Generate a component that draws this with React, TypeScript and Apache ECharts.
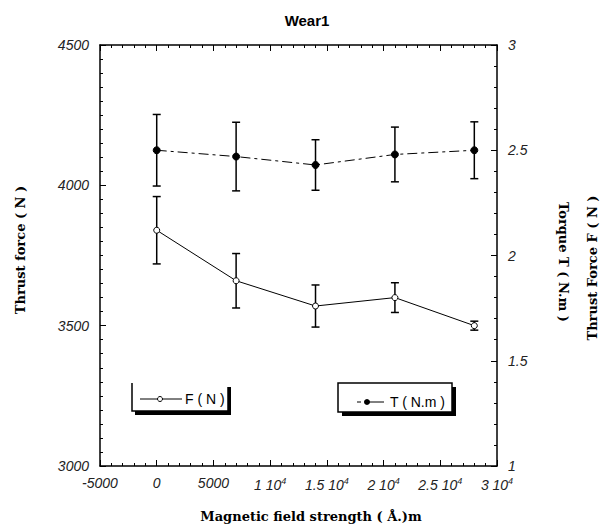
import React, { useEffect, useRef } from "react";
import * as echarts from "echarts";

// ---- data ----
const xValues = [0, 7000, 14000, 21000, 28000];
const forceMean = [3840, 3660, 3570, 3600, 3500];
const forceErr = [120, 97, 75, 53, 16];
const torqueMean = [2.5, 2.47, 2.43, 2.48, 2.5];
const torqueErr = [0.17, 0.163, 0.12, 0.13, 0.135];

const xTickValues = [-5000, 0, 5000, 10000, 15000, 20000, 25000, 30000];
const xTickMantissa = ["-5000", "0", "5000", "1 10", "1.5 10", "2 10", "2.5 10", "3 10"];
const xTickExponent = ["", "", "", "4", "4", "4", "4", "4"];

const titleText = "Wear1";
const xName = "Magnetic field strength ( Å.)m";
const leftName = "Thrust force ( N )";
const rightName = "Torque T ( N.m )";
const rightName2 = "Thrust Force F ( N )";
const legendF = "F ( N )";
const legendT = "T ( N.m )";

const tickFont = {
  fontFamily: "Liberation Sans, Arial, sans-serif",
  fontStyle: "italic" as const,
  fontSize: 14,
  color: "#222",
};

function errorBarSeries(yAxisIndex: number, mean: number[], err: number[]) {
  return {
    type: "custom",
    xAxisIndex: 0,
    yAxisIndex,
    silent: true,
    clip: false,
    z: 3,
    data: xValues.map((x, i) => [x, mean[i], err[i]]),
    encode: { x: 0, y: 1 },
    renderItem: (_params: any, api: any) => {
      const x = api.value(0);
      const y = api.value(1);
      const e = api.value(2);
      const top = api.coord([x, y + e]);
      const bot = api.coord([x, y - e]);
      const hw = 4;
      const st = { stroke: "#000", lineWidth: 1.5 };
      return {
        type: "group",
        children: [
          { type: "line", shape: { x1: top[0], y1: top[1], x2: bot[0], y2: bot[1] }, style: st },
          { type: "line", shape: { x1: top[0] - hw, y1: top[1], x2: top[0] + hw, y2: top[1] }, style: st },
          { type: "line", shape: { x1: bot[0] - hw, y1: bot[1], x2: bot[0] + hw, y2: bot[1] }, style: st },
        ],
      };
    },
  };
}

export default function App() {
  const ref = useRef<HTMLDivElement>(null);

  useEffect(() => {
    document.body.style.margin = "0";
    if (!ref.current) return;
    const chart = echarts.init(ref.current, undefined, { renderer: "svg" });

    const axisLine = { show: true, onZero: false, lineStyle: { color: "#000", width: 1.5 } };
    const xAxisCommon = {
      type: "value",
      min: -5000,
      max: 30000,
      interval: 5000,
      axisLine,
      axisTick: { show: true, inside: true, length: 6, lineStyle: { color: "#000", width: 1 } },
      minorTick: { show: true, splitNumber: 5, length: 3, lineStyle: { color: "#000", width: 1 } },
      splitLine: { show: false },
      minorSplitLine: { show: false },
    };

    const option: any = {
      animation: false,
      backgroundColor: "#fff",
      grid: { left: 100, right: 104, top: 45, bottom: 61, containLabel: false },
      xAxis: [
        {
          ...xAxisCommon,
          position: "bottom",
          axisLabel: {
            ...tickFont,
            margin: 10,
            formatter: (v: number) => {
              const i = xTickValues.indexOf(v);
              if (i < 0) return "";
              return xTickExponent[i]
                ? `{m|${xTickMantissa[i]}}{e|${xTickExponent[i]}}`
                : `{m|${xTickMantissa[i]}}`;
            },
            rich: {
              m: { ...tickFont },
              e: { ...tickFont, fontSize: 9, padding: [0, 0, 9, 0] },
            },
          },
        },
        {
          ...xAxisCommon,
          position: "top",
          axisLabel: { show: false },
        },
      ],
      yAxis: [
        {
          type: "value",
          position: "left",
          min: 3000,
          max: 4500,
          interval: 500,
          axisLine,
          axisTick: { show: true, inside: true, length: 6, lineStyle: { color: "#000", width: 1 } },
          minorTick: { show: true, splitNumber: 10, length: 3, lineStyle: { color: "#000", width: 1 } },
          splitLine: { show: false },
          axisLabel: { ...tickFont, margin: 11, formatter: (v: number) => String(v) },
        },
        {
          type: "value",
          position: "right",
          min: 1,
          max: 3,
          interval: 0.5,
          axisLine,
          axisTick: { show: true, inside: true, length: 6, lineStyle: { color: "#000", width: 1 } },
          minorTick: { show: true, splitNumber: 5, length: 3, lineStyle: { color: "#000", width: 1 } },
          splitLine: { show: false },
          axisLabel: { ...tickFont, margin: 11, formatter: (v: number) => String(v) },
        },
      ],
      series: [
        errorBarSeries(0, forceMean, forceErr),
        errorBarSeries(1, torqueMean, torqueErr),
        {
          type: "line",
          name: legendF,
          xAxisIndex: 0,
          yAxisIndex: 0,
          data: xValues.map((x, i) => [x, forceMean[i]]),
          symbol: "circle",
          symbolSize: 6,
          showSymbol: true,
          lineStyle: { color: "#000", width: 1 },
          itemStyle: { color: "#fff", borderColor: "#000", borderWidth: 1 },
          z: 4,
        },
        {
          type: "line",
          name: legendT,
          xAxisIndex: 0,
          yAxisIndex: 1,
          data: xValues.map((x, i) => [x, torqueMean[i]]),
          symbol: "circle",
          symbolSize: 7,
          showSymbol: true,
          lineStyle: { color: "#000", width: 1, type: [10, 4, 3, 4] },
          itemStyle: { color: "#000", borderColor: "#000", borderWidth: 1 },
          z: 4,
        },
      ],
      graphic: [
        {
          type: "text",
          x: 307,
          y: 20,
          style: {
            text: titleText,
            fontFamily: "Liberation Sans, Arial, sans-serif",
            fontWeight: "bold",
            fontSize: 15,
            fill: "#000",
            align: "center",
            verticalAlign: "middle",
          },
        },
        {
          type: "text",
          x: 311,
          y: 516,
          style: {
            text: xName,
            fontFamily: "DejaVu Serif, serif",
            fontWeight: "bold",
            fontSize: 13,
            fill: "#000",
            align: "center",
            verticalAlign: "middle",
          },
        },
        {
          type: "text",
          x: 20,
          y: 250,
          rotation: Math.PI / 2,
          style: {
            text: leftName,
            fontFamily: "DejaVu Serif, serif",
            fontWeight: "bold",
            fontSize: 13,
            fill: "#000",
            align: "center",
            verticalAlign: "middle",
          },
        },
        {
          type: "text",
          x: 563,
          y: 262,
          rotation: -Math.PI / 2,
          style: {
            text: rightName,
            fontFamily: "DejaVu Serif, serif",
            fontWeight: "bold",
            fontSize: 13,
            fill: "#000",
            align: "center",
            verticalAlign: "middle",
          },
        },
        {
          type: "text",
          x: 592,
          y: 268,
          rotation: Math.PI / 2,
          style: {
            text: rightName2,
            fontFamily: "DejaVu Serif, serif",
            fontWeight: "bold",
            fontSize: 13,
            fill: "#000",
            align: "center",
            verticalAlign: "middle",
          },
        },
        // Legend F box
        { type: "rect", shape: { x: 135, y: 387, width: 96, height: 28 }, style: { fill: "#000" }, z: 10 },
        { type: "rect", shape: { x: 132, y: 383, width: 96, height: 28 }, style: { fill: "#fff" }, z: 11 },
        {
          type: "polyline",
          shape: { points: [[132, 383], [132, 411], [228, 411], [228, 387]] },
          style: { stroke: "#000", lineWidth: 1.5, fill: "none" },
          z: 12,
        },
        { type: "line", shape: { x1: 140, y1: 399, x2: 182, y2: 399 }, style: { stroke: "#000", lineWidth: 1 }, z: 12 },
        { type: "circle", shape: { cx: 160, cy: 399, r: 2.5 }, style: { fill: "#fff", stroke: "#000", lineWidth: 1 }, z: 13 },
        {
          type: "text",
          x: 185,
          y: 399,
          z: 12,
          style: {
            text: legendF,
            fontFamily: "Liberation Sans, Arial, sans-serif",
            fontSize: 14,
            fill: "#000",
            align: "left",
            verticalAlign: "middle",
          },
        },
        // Legend T box
        { type: "rect", shape: { x: 342, y: 387, width: 114, height: 29 }, style: { fill: "#000" }, z: 10 },
        {
          type: "rect",
          shape: { x: 338, y: 383, width: 114, height: 29 },
          style: { fill: "#fff", stroke: "#000", lineWidth: 1.5 },
          z: 11,
        },
        { type: "line", shape: { x1: 357, y1: 402, x2: 361, y2: 402 }, style: { stroke: "#000", lineWidth: 1 }, z: 12 },
        { type: "line", shape: { x1: 366, y1: 402, x2: 384, y2: 402 }, style: { stroke: "#000", lineWidth: 1 }, z: 12 },
        { type: "circle", shape: { cx: 367, cy: 402, r: 3 }, style: { fill: "#000" }, z: 13 },
        {
          type: "text",
          x: 390,
          y: 402,
          z: 12,
          style: {
            text: legendT,
            fontFamily: "Liberation Sans, Arial, sans-serif",
            fontSize: 14,
            fill: "#000",
            align: "left",
            verticalAlign: "middle",
          },
        },
      ],
    };

    chart.setOption(option);
    return () => chart.dispose();
  }, []);

  return <div ref={ref} style={{ width: 601, height: 527 }} />;
}
